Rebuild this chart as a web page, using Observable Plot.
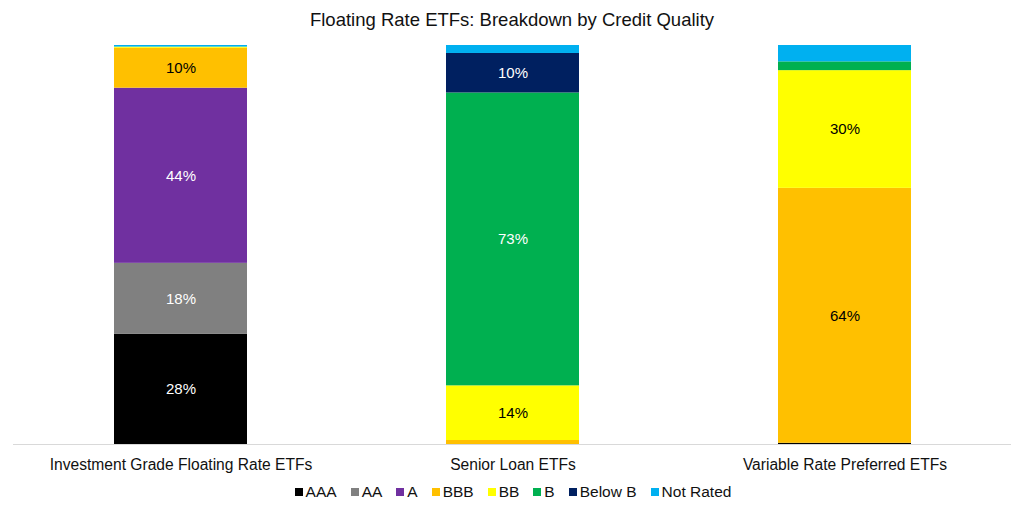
<!DOCTYPE html>
<html>
<head>
<meta charset="utf-8">
<script src="https://cdn.jsdelivr.net/npm/d3@7"></script>
<script src="https://cdn.jsdelivr.net/npm/@observablehq/plot@0.6"></script>
<style>
  body { margin: 0; background: #fff; font-family: "Liberation Sans", Arial, sans-serif; }
  #wrap { width: 1024px; height: 512px; overflow: hidden; }
  #title { height: 36px; line-height: 39px; text-align: center; font-size: 18.5px; color: #111; }
  #legend { display: flex; justify-content: center; align-items: center; height: 32px; font-size: 15.5px; color: #111; gap: 14px; padding-left: 2px; }
  #legend .item { display: flex; align-items: center; }
  #legend .sw { width: 8px; height: 8px; margin-right: 3px; display: inline-block; }
</style>
</head>
<body>
<div id="wrap">
  <div id="title">Floating Rate ETFs: Breakdown by Credit Quality</div>
  <div id="chart"></div>
  <div id="legend"></div>
</div>
<script>
const funds = ["Investment Grade Floating Rate ETFs", "Senior Loan ETFs", "Variable Rate Preferred ETFs"];
const ratings = ["AAA", "AA", "A", "BBB", "BB", "B", "Below B", "Not Rated"];
const colors = ["#000000", "#808080", "#7030A0", "#FFC000", "#FFFF00", "#00B050", "#002060", "#00B0F0"];
const labelColors = ["#fff", "#fff", "#fff", "#000", "#000", "#fff", "#fff", "#000"];
// percent per rating, in ratings order
const investmentGrade = [27.6, 17.8, 43.9, 10.0, 0.3, 0, 0, 0.4];
const seniorLoan = [0, 0, 0, 1.0, 13.7, 73.4, 9.9, 2.0];
const variableRatePreferred = [0.3, 0, 0, 63.9, 29.5, 2.2, 0, 4.1];

const series = [investmentGrade, seniorLoan, variableRatePreferred];
const data = [];
funds.forEach((f, i) => ratings.forEach((r, j) => data.push({fund: f, rating: r, value: series[i][j], ri: j})));

const chart = Plot.plot({
  width: 1024,
  height: 440,
  marginTop: 9,
  marginBottom: 32,
  marginLeft: 13,
  marginRight: 13,
  style: {fontFamily: "'Liberation Sans', Arial, sans-serif", fontSize: "15.6px", color: "#111", background: "#fff"},
  x: {domain: funds, paddingInner: 0.6, paddingOuter: 0.3, label: null, tickSize: 0, tickPadding: 14},
  y: {domain: [0, 100], axis: null},
  color: {domain: ratings, range: colors},
  marks: [
    Plot.barY(data, {x: "fund", y: "value", fill: "rating", z: "rating", order: ratings}),
    Plot.ruleY([0], {stroke: "#d9d9d9", strokeWidth: 1}),
    Plot.text(data, Plot.stackY({
      x: "fund", y: "value", z: "rating", order: ratings,
      text: d => d.value >= 5 ? Math.round(d.value) + "%" : "",
      fill: d => labelColors[d.ri],
      fontSize: 15
    }))
  ]
});
document.getElementById("chart").appendChild(chart);

const legend = document.getElementById("legend");
ratings.forEach((r, i) => {
  const item = document.createElement("span");
  item.className = "item";
  const sw = document.createElement("span");
  sw.className = "sw";
  sw.style.background = colors[i];
  item.appendChild(sw);
  item.appendChild(document.createTextNode(r));
  legend.appendChild(item);
});
</script>
</body>
</html>
